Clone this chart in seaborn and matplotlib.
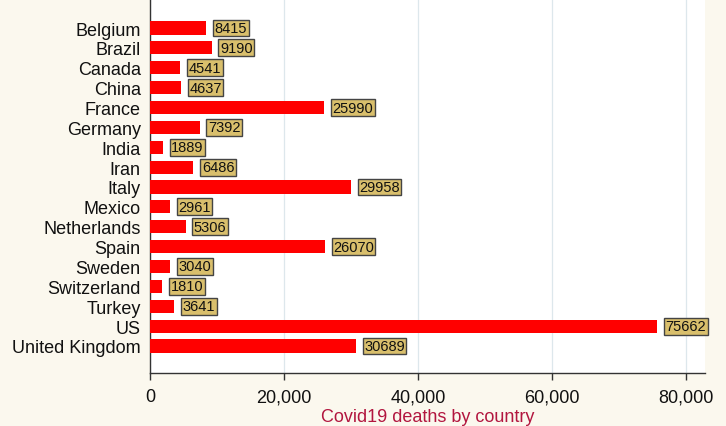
import matplotlib
matplotlib.use("Agg")
import matplotlib.pyplot as plt
import seaborn as sns
import pandas as pd
from matplotlib.ticker import FuncFormatter

countries = [
    "Belgium", "Brazil", "Canada", "China", "France", "Germany", "India",
    "Iran", "Italy", "Mexico", "Netherlands", "Spain", "Sweden",
    "Switzerland", "Turkey", "US", "United Kingdom",
]
deaths = [
    8415, 9190, 4541, 4637, 25990, 7392, 1889, 6486, 29958, 2961,
    5306, 26070, 3040, 1810, 3641, 75662, 30689,
]
x_ticks = [0, 20000, 40000, 60000, 80000]

df = pd.DataFrame({"country": countries, "deaths": deaths})

bg = "#FBF8EE"
sns.set_theme(style="white")
plt.rcParams["font.family"] = ["Liberation Sans", "DejaVu Sans"]

fig = plt.figure(figsize=(7.26, 4.27), dpi=100, facecolor=bg)
ax = fig.add_axes([150 / 726, 53 / 427, 555 / 726, 374 / 427])
ax.set_facecolor("white")

sns.barplot(data=df, x="deaths", y="country", orient="h", color="#FF0000",
            width=0.66, saturation=1, linewidth=0, ax=ax, zorder=3)

for i, v in enumerate(deaths):
    ax.annotate(str(v), xy=(v, i), xytext=(6, 0), textcoords="offset points",
                ha="left", va="center", fontsize=10.5, color="#111111",
                annotation_clip=False, zorder=4,
                bbox=dict(boxstyle="square,pad=0.1", facecolor="#D9BF6C",
                          edgecolor="#444444", linewidth=1))

ax.set_xlim(0, 82800)
ax.set_ylim(17.36, -1.46)
ax.set_xticks(x_ticks)
ax.xaxis.set_major_formatter(FuncFormatter(lambda v, p: f"{int(v):,}"))
ax.grid(axis="x", color="#DDE7EC", linewidth=0.9, zorder=0)
ax.grid(axis="y", visible=False)

for s in ["top", "right"]:
    ax.spines[s].set_visible(False)
for s in ["left", "bottom"]:
    ax.spines[s].set_color("#333333")
    ax.spines[s].set_linewidth(1.0)

ax.tick_params(axis="x", bottom=True, length=5, width=1, color="#333333",
               labelsize=13, labelcolor="#111111", pad=6)
ax.tick_params(axis="y", left=False, labelsize=13, labelcolor="#111111", pad=0.7)
ax.set_ylabel("")
ax.set_xlabel("Covid19 deaths by country", color="#B2163F", fontsize=13,
              labelpad=2)

fig.savefig("out.png", dpi=100, facecolor=bg)
